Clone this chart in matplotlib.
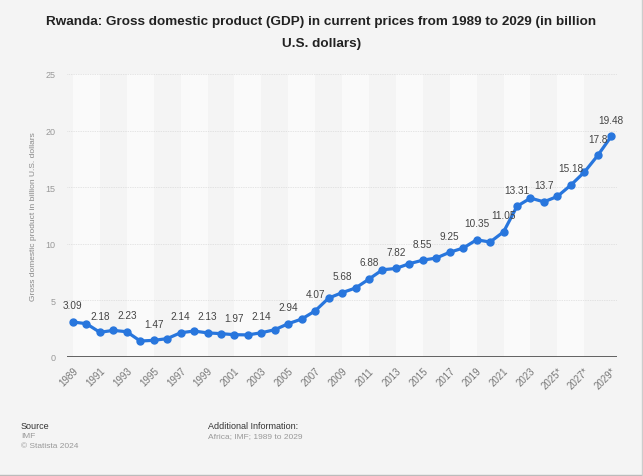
import matplotlib.pyplot as plt

years = list(range(1989, 2030))
gdp = [3.09, 2.94, 2.18, 2.35, 2.23, 1.41, 1.47, 1.62, 2.14, 2.29,
       2.13, 2.06, 1.97, 1.95, 2.14, 2.41, 2.94, 3.35, 4.07, 5.2,
       5.68, 6.09, 6.88, 7.7, 7.82, 8.24, 8.55, 8.74, 9.25, 9.62,
       10.35, 10.15, 11.05, 13.31, 14.03, 13.7, 14.18, 15.18, 16.32, 17.8,
       19.48]
labeled_years = list(range(1989, 2022, 2)) + [2022, 2024, 2026, 2028, 2029]
tick_years = list(range(1989, 2030, 2))
tick_labels = [str(y) + ('*' if y >= 2025 else '') for y in tick_years]

plt.rcParams['font.family'] = ['Liberation Sans', 'DejaVu Sans']

bg = '#f4f4f4'
fig = plt.figure(figsize=(6.43, 4.77), dpi=100, facecolor=bg)
ax = fig.add_axes([0.104, 0.2495, 0.856, 0.5935])
ax.set_facecolor(bg)

# alternating vertical bands
for start in range(1989, 2029, 4):
    ax.axvspan(start, start + 2, color='#fafafa', lw=0, zorder=0)

for v in [5, 10, 15, 20, 25]:
    ax.axhline(v, color='#cfcfcf', lw=0.5, ls=(0, (1, 1.5)), zorder=1)
ax.axhline(0, color='#555555', lw=1.3, zorder=2)

ax.plot(years, gdp, color='#2876dd', lw=2.3, marker='o', ms=5, zorder=3)

for y, v in zip(years, gdp):
    if y in labeled_years:
        ax.annotate(f'{v:g}', (y, v), xytext=(0, 12), textcoords='offset points',
                    ha='center', va='center', fontsize=7.2, color='#444444', zorder=4)

ax.set_xlim(1988.55, 2029.45)
ax.set_ylim(0, 25)
ax.set_yticks([0, 5, 10, 15, 20, 25])
ax.set_xticks(tick_years)
ax.set_xticklabels(tick_labels, rotation=45, ha='right', rotation_mode='anchor')
ax.tick_params(axis='x', length=0, labelsize=7, labelcolor='#777777', pad=6)
ax.tick_params(axis='y', length=0, labelsize=6.5, labelcolor='#999999', pad=8)
for s in ax.spines.values():
    s.set_visible(False)
ax.set_ylabel('Gross domestic product in billion U.S. dollars', fontsize=6,
              color='#888888', labelpad=6)

fig.text(0.5, 1 - 22 / 477, 'Rwanda: Gross domestic product (GDP) in current prices from 1989 to 2029 (in billion',
         ha='center', va='center', fontsize=9.7, fontweight='bold', color='#222222')
fig.text(0.5, 1 - 44 / 477, 'U.S. dollars)',
         ha='center', va='center', fontsize=9.7, fontweight='bold', color='#222222')

fig.text(21 / 643, 1 - 427 / 477, 'Source', fontsize=6.5, color='#333333', va='center')
fig.text(21 / 643, 1 - 437 / 477, 'IMF', fontsize=6, color='#999999', va='center')
fig.text(21 / 643, 1 - 447 / 477, '© Statista 2024', fontsize=6, color='#999999', va='center')
fig.text(208 / 643, 1 - 427 / 477, 'Additional Information:', fontsize=6.5, color='#333333', va='center')
fig.text(208 / 643, 1 - 437 / 477, 'Africa; IMF; 1989 to 2029', fontsize=6, color='#999999', va='center')

fig.add_artist(plt.Line2D([0, 642 / 643], [1 - 475.5 / 477] * 2, color='#bbbbbb', lw=1))
fig.add_artist(plt.Line2D([641.5 / 643] * 2, [1 - 475.5 / 477, 1], color='#cccccc', lw=1))

fig.savefig('out.png', dpi=100, facecolor=bg)
